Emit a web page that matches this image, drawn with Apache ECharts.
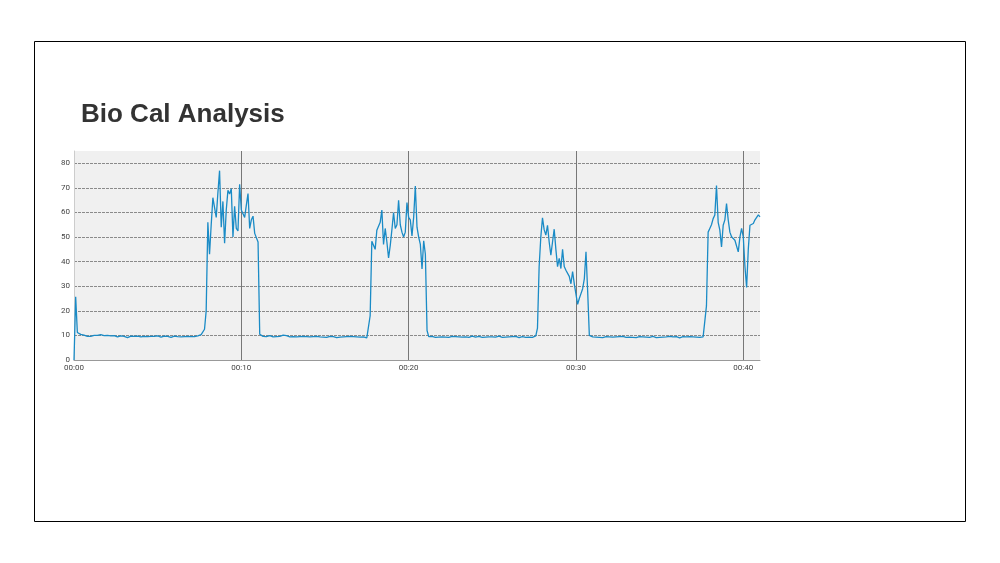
<!DOCTYPE html>
<html>
<head>
<meta charset="utf-8">
<script src="https://cdn.jsdelivr.net/npm/echarts@6/dist/echarts.min.js"></script>
<style>
html,body{margin:0;padding:0;background:#fff;}
#chart{width:1000px;height:563px;}
</style>
</head>
<body>
<div id="chart"></div>
<script>
// One sample every 0.1 minute (6 s), starting at 00:00
var sampleStepMinutes = 0.1;
var xTickLabels = ['00:00', '00:10', '00:20', '00:30', '00:40'];
var yTicks = [0, 10, 20, 30, 40, 50, 60, 70, 80];
var readings = [
  0, 25.7, 11.2, 10.6, 10.4, 10.2, 10.1, 10.0, 9.6, 9.1,
  9.6, 9.9, 10.0, 10.1, 10.0, 10.2, 10.3, 10.0, 9.9, 10.1,
  10.0, 9.6, 9.8, 10.0, 9.9, 9.7, 9.4, 9.5, 9.8, 9.9,
  9.6, 9.3, 9.1, 9.4, 9.7, 9.8, 9.6, 9.5, 9.7, 9.6,
  9.4, 9.5, 9.6, 9.3, 9.5, 9.7, 9.6, 9.4, 9.6, 9.5,
  9.8, 9.6, 9.3, 9.5, 9.7, 9.4, 9.6, 9.5, 9.2, 9.5,
  9.7, 9.8, 9.5, 9.0, 9.4, 9.6, 9.5, 9.3, 9.6, 9.4,
  9.5, 9.7, 9.5, 9.6, 9.8, 10.0, 10.3, 10.4, 12.5, 20,
  56, 43, 55, 66, 66.5, 58, 68, 77, 54, 64.5,
  47.5, 61, 69, 67.5, 69.7, 50, 62.5, 53.5, 52.5, 71.5,
  61, 59.5, 58, 63, 67.7, 53.5, 57, 58.5, 51.5, 52,
  48, 10.5, 9.8, 9.6, 10.0, 9.5, 9.7, 9.9, 9.6, 9.4,
  9.7, 9.5, 9.3, 9.6, 9.4, 10.1, 10.5, 9.9, 9.6, 9.4,
  9.2, 9.5, 9.7, 9.4, 9.6, 9.5, 9.3, 9.6, 9.4, 9.5,
  9.7, 9.4, 9.2, 9.5, 9.3, 9.6, 9.1, 9.4, 9.6, 9.3,
  9.5, 9.2, 9.4, 9.6, 9.3, 9.5, 9.4, 9.1, 9.5, 9.3,
  9.6, 9.4, 9.2, 9.5, 9.3, 9.6, 9.4, 9.5, 9.2, 9.4,
  9.6, 9.3, 9.5, 9.4, 9.2, 9.0, 9.6, 18, 48.3, 47.5,
  45, 52.8, 52, 56, 61, 47, 53.5, 48, 41.5, 46.5,
  53, 60, 53.5, 55, 65, 55, 52, 50, 52, 64,
  58, 57, 50.5, 58, 70.8, 54, 50, 47, 37, 48.5,
  43, 12, 9.5, 9.3, 9.6, 9.4, 9.2, 9.5, 9.3, 9.6,
  9.4, 9.1, 9.3, 9.5, 9.2, 9.4, 9.6, 9.3, 9.5, 9.2,
  9.4, 9.6, 9.3, 9.1, 9.4, 9.5, 9.2, 9.4, 9.7, 9.5,
  9.3, 9.5, 9.6, 9.4, 9.2, 9.5, 9.3, 9.6, 9.4, 9.1,
  9.4, 9.6, 9.3, 9.5, 9.7, 9.4, 9.2, 9.5, 9.3, 9.6,
  9.4, 9.2, 9.5, 9.3, 9.6, 9.4, 9.1, 9.3, 9.5, 9.4,
  9.2, 9.5, 9.3, 9.0, 9.2, 9.3, 9.8, 13, 38, 50,
  57.8, 53, 50.8, 54.8, 48, 42.6, 48, 53.2, 45, 38,
  41.3, 37.2, 45, 38, 36.5, 37, 34, 31, 36, 31,
  30.5, 22.6, 25, 27, 29, 33, 44, 28, 10, 9.5,
  9.4, 9.2, 9.3, 9.5, 9.2, 9.4, 9.1, 9.3, 9.5, 9.2,
  9.4, 9.6, 9.3, 9.1, 9.4, 9.2, 9.5, 9.3, 9.6, 9.4,
  9.2, 9.0, 9.3, 9.5, 9.2, 9.4, 9.1, 9.3, 9.5, 9.2,
  9.4, 9.1, 9.3, 9.0, 9.2, 9.4, 9.6, 9.3, 9.1, 9.4,
  9.2, 9.5, 9.3, 9.1, 9.4, 9.2, 9.6, 9.3, 9.4, 9.2,
  9.5, 9.3, 9.0, 9.3, 9.5, 9.2, 9.4, 9.6, 9.5, 9.3,
  9.4, 9.6, 9.3, 9.5, 9.2, 9.4, 9.4, 10, 22, 52,
  53.5, 55, 57.5, 59, 71, 56, 52.8, 46, 54.8, 57,
  63.6, 57, 52, 50.1, 50.5, 48.7, 48.7, 44, 50, 53.5,
  50.1, 38, 29.5, 45, 54.8, 54, 55.5, 57, 58, 59,
  58.2
];

var seriesData = readings.map(function (v, i) {
  return [+(i * sampleStepMinutes).toFixed(1), v];
});
var xMax = +((readings.length - 1) * sampleStepMinutes).toFixed(1);

var chart = echarts.init(document.getElementById('chart'), null, {renderer: 'canvas'});
chart.setOption({
  animation: false,
  backgroundColor: '#ffffff',
  title: {
    text: 'Bio Cal Analysis',
    left: 76,
    top: 97,
    textStyle: {
      fontFamily: 'Liberation Sans, Arial, sans-serif',
      fontWeight: 'bold',
      fontSize: 26,
      color: '#333333'
    }
  },
  graphic: [{
    type: 'rect',
    shape: {x: 34.5, y: 41.5, width: 931, height: 480},
    style: {fill: 'none', stroke: '#000000', lineWidth: 1},
    silent: true,
    z: 100
  }],
  grid: {
    left: 74,
    right: 240,
    top: 151,
    bottom: 203,
    show: true,
    backgroundColor: '#f0f0f0',
    borderWidth: 0
  },
  xAxis: {
    type: 'value',
    min: 0,
    max: xMax,
    interval: 10,
    axisLine: {show: true, lineStyle: {color: '#999999', width: 1}},
    axisTick: {show: false},
    axisLabel: {
      fontFamily: 'Roboto, sans-serif',
      fontSize: 8,
      color: '#444444',
      margin: 4,
      showMaxLabel: false,
      formatter: function (v) {
        var idx = Math.round(v / 10);
        return xTickLabels[idx] !== undefined && v % 10 === 0 ? xTickLabels[idx] : '';
      }
    },
    splitLine: {
      show: true,
      lineStyle: {
        color: ['rgba(0,0,0,0)', '#777777', '#777777', '#777777', '#777777', 'rgba(0,0,0,0)'],
        width: 1,
        type: 'solid'
      }
    }
  },
  yAxis: {
    type: 'value',
    min: 0,
    max: 85,
    interval: 10,
    axisLine: {show: true, lineStyle: {color: '#cccccc', width: 1}},
    axisTick: {show: false},
    axisLabel: {
      fontFamily: 'Roboto, sans-serif',
      fontSize: 8,
      color: '#444444',
      margin: 4,
      showMaxLabel: false,
      formatter: function (v) { return yTicks.indexOf(v) >= 0 ? String(v) : ''; }
    },
    splitLine: {
      show: true,
      lineStyle: {
        color: ['#8a8a8a','#8a8a8a','#8a8a8a','#8a8a8a','#8a8a8a','#8a8a8a','#8a8a8a','#8a8a8a','#8a8a8a','rgba(0,0,0,0)'],
        width: 1,
        type: [3, 1]
      }
    }
  },
  series: [{
    type: 'line',
    data: seriesData,
    showSymbol: false,
    symbol: 'none',
    lineStyle: {color: '#1a8bc6', width: 1.3},
    clip: true
  }]
});
</script>
</body>
</html>
